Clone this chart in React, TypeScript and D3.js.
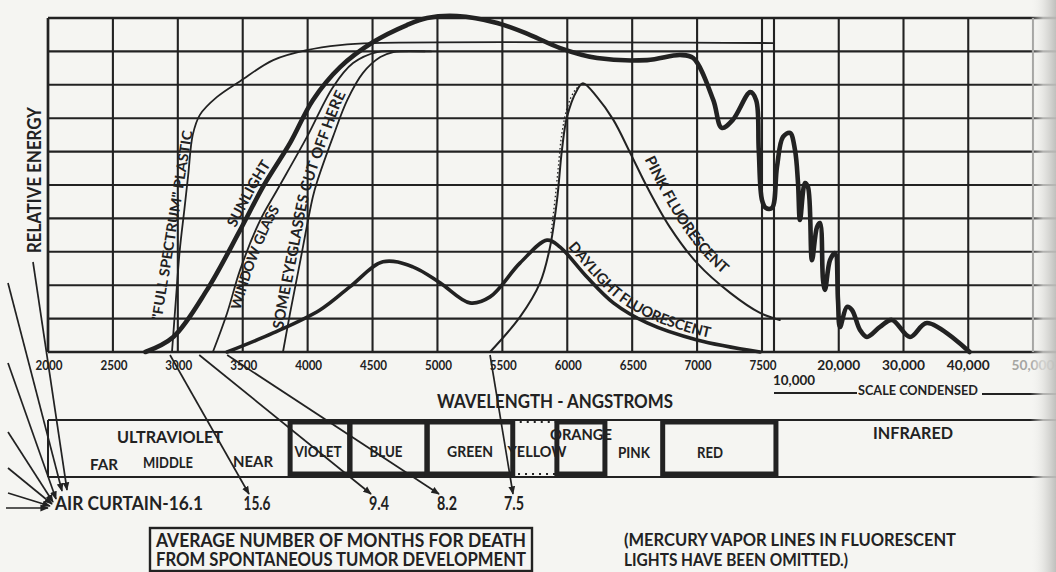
import React from "react";
import * as d3 from "d3";

const W = 1056;
const H = 572;
const INK = "#222222";
const PAPER = "#f5f5f2";
const FONT = "Lato, 'Open Sans', sans-serif";

// ---------- axis ticks ----------
const mainTicks = [2000, 2500, 3000, 3500, 4000, 4500, 5000, 5500, 6000, 6500, 7000, 7500];
const mainTickLabels = ["2000", "2500", "3000", "3500", "4000", "4500", "5000", "5500", "6000", "6500", "7000", "7500"];
const condensedTicks = [20000, 30000, 40000, 50000];
const condensedTickLabels = ["20,000", "30,000", "40,000", "50,000"];
const condensedStart = 10000;
const condensedStartLabel = "10,000";
const energyTicks = [0, 1, 2, 3, 4, 5, 6, 7, 8, 9, 10];

// ---------- series: [wavelength (Å), relative energy] ----------
const sunlight: [number, number][] = [
  [2750, 0], [2965, 0.45], [3225, 1.86], [3480, 3.65], [3655, 4.94], [3865, 6.26], [4040, 7.54],
  [4250, 8.53], [4505, 9.28], [4765, 9.79], [4920, 10.0], [5150, 10.06], [5460, 9.85], [5715, 9.49],
  [5945, 9.1], [6230, 8.8], [6615, 8.74], [6870, 8.89], [6970, 8.8], [7125, 7.54], [7190, 6.71],
  [7275, 6.95], [7410, 7.78], [7455, 7.54], [7475, 6.05], [7500, 4.55], [8330, 4.31], [9580, 4.31],
  [10460, 5.54], [11390, 6.44], [12470, 6.56], [13240, 6.05], [13710, 5.06], [14015, 3.95],
  [14790, 5.06], [15250, 4.94], [15870, 2.75], [16640, 3.74], [17100, 3.86], [17570, 2.16],
  [17875, 1.86], [18650, 2.75], [19420, 2.96], [19880, 1.56], [20190, 0.75], [21270, 1.35],
  [22040, 1.26], [23280, 0.66], [24360, 0.45], [26370, 0.75], [28220, 0.96], [31000, 0.45],
  [33620, 0.87], [40200, 0],
];
const fullSpectrumPlastic: [number, number][] = [
  [2955, 0], [2985, 1.56], [3015, 3.05], [3050, 4.25], [3080, 5.3], [3115, 6.5], [3170, 7.1],
  [3300, 7.63], [3480, 8.11], [3735, 8.74], [3995, 9.04], [4250, 9.19], [4505, 9.25], [9800, 9.25],
];
const windowGlass: [number, number][] = [
  [3270, 0], [3380, 1.17], [3480, 2.46], [3635, 3.95], [3765, 4.85], [3995, 6.44], [4195, 7.93],
  [4350, 8.65], [4535, 8.98], [4710, 9.0], [4950, 9.0],
];
const eyeglasses: [number, number][] = [
  [3810, 0], [3865, 1.17], [3940, 2.66], [4040, 4.64], [4070, 5.06], [4195, 6.44], [4305, 7.54],
  [4425, 8.35], [4560, 8.83], [4660, 8.98], [4900, 9.0],
];
const daylightFluorescent: [number, number][] = [
  [3380, 0], [3735, 0.57], [4095, 1.26], [4325, 1.95], [4580, 2.7], [4810, 2.55], [5020, 2.07],
  [5250, 1.47], [5405, 1.65], [5635, 2.66], [5845, 3.35], [5945, 3.14], [6150, 2.25], [6355, 1.47],
  [6615, 0.87], [7000, 0.36], [7485, 0],
];
const pinkFluorescent: [number, number][] = [
  [5405, 0], [5636, 1.05], [5790, 2.07], [5867, 3.14], [5921, 4.55], [5959, 6.05], [5998, 7.04],
  [6075, 7.84], [6121, 8.05], [6230, 7.63], [6355, 6.95], [6485, 5.96], [6615, 4.94], [6790, 3.74],
  [7000, 2.66], [7255, 1.77], [7485, 1.17], [10900, 0.96],
];
const pinkDotted: [number, number][] = [
  [5875, 3.56], [5905, 4.55], [5929, 5.45], [5959, 6.56], [6006, 7.4], [6060, 7.84], [6110, 8.02],
];

// ---------- spectrum band regions (Å) ----------
const bandNames = ["VIOLET", "BLUE", "GREEN", "YELLOW", "ORANGE", "PINK", "RED"];
const bandFrom = [3865, 4325, 4920, 5580, 5920, 6290, 6735];
const bandTo = [4325, 4920, 5580, 5920, 6290, 6735, 10300];
const bandBoxed = ["solid", "solid", "solid", "dotted", "solid", "none", "solid"];

// ---------- tumor months annotations ----------
const tumorLabels = ["15.6", "9.4", "8.2", "7.5"];
const tumorFromWl = [2940, 3165, 3380, 5405];

export default function App() {
  const x = d3.scaleLinear().domain([2000, 7500, 10000, 50000]).range([48, 762, 774, 1033]);
  const y = d3.scaleLinear().domain([0, 10]).range([352, 18]);
  const line = d3
    .line<[number, number]>()
    .x((d) => x(d[0]))
    .y((d) => y(d[1]))
    .curve(d3.curveCatmullRom.alpha(0.5));

  const x0 = x(2000);
  const yBase = y(0);
  const yTop = y(10);

  const series = [
    { id: "plastic", data: fullSpectrumPlastic, w: 1.8 },
    { id: "window", data: windowGlass, w: 1.8 },
    { id: "eye", data: eyeglasses, w: 1.8 },
    { id: "pink", data: pinkFluorescent, w: 2.0 },
    { id: "daylight", data: daylightFluorescent, w: 3.6 },
    { id: "sun", data: sunlight, w: 4.6 },
  ];

  const sub = (d: [number, number][], lo: number, hi: number) => d.filter((p) => p[0] >= lo && p[0] <= hi);

  const labelPaths = [
    { id: "lp-sun", d: line(sub(sunlight, 3400, 4600)), text: "SUNLIGHT", dy: -5, off: 0, size: 14.5 },
    { id: "lp-win", d: line(sub(windowGlass, 3370, 4600)), text: "WINDOW GLASS", dy: 12, off: 6, size: 14 },
    { id: "lp-eye", d: line(sub(eyeglasses, 3800, 4700)), text: "SOME EYEGLASSES CUT OFF HERE", dy: -4, off: 22, size: 15 },
    { id: "lp-pink", d: line(sub(pinkFluorescent, 6480, 7600)), text: "PINK FLUORESCENT", dy: -10, off: 12, size: 15 },
    { id: "lp-day", d: line(sub(daylightFluorescent, 5840, 7600)), text: "DAYLIGHT  FLUORESCENT", dy: -5, off: 20, size: 14.5 },
  ];

  const bandTop = 420;
  const bandBot = 477;

  const txt = (
    s: string,
    cx: number,
    by: number,
    size: number,
    len?: number,
    anchor: "middle" | "start" = "middle",
    extra: any = {}
  ) => (
    <text
      key={s + cx + by}
      x={cx}
      y={by}
      fontSize={size}
      textAnchor={anchor}
      textLength={len}
      lengthAdjust={len ? "spacingAndGlyphs" : undefined}
      fill={INK}
      fontWeight={700}
      {...extra}
    >
      {s}
    </text>
  );

  const fanSources = [
    [8, 283, 62, 491], [33, 262, 67, 490], [8, 363, 56, 499], [8, 432, 53, 502],
    [8, 468, 52, 504], [8, 493, 50, 506], [6, 508, 48, 508],
  ];

  const tumorLabelX = [257, 379, 447, 514];

  return (
    <svg
      width={W}
      height={H}
      viewBox={`0 0 ${W} ${H}`}
      style={{ position: "absolute", left: 0, top: 0, display: "block", background: PAPER }}
      fontFamily={FONT}
    >
      <defs>
        <marker id="arr" viewBox="0 0 10 10" refX="9" refY="5" markerWidth="5" markerHeight="5" orient="auto">
          <path d="M0,1 L10,5 L0,9 z" fill={INK} />
        </marker>
        <linearGradient id="edge" x1="0" x2="1" y1="0" y2="0">
          <stop offset="0" stopColor={PAPER} stopOpacity={0} />
          <stop offset="0.5" stopColor="#e2e2df" stopOpacity={0.75} />
          <stop offset="1" stopColor="#bdbdba" stopOpacity={0.95} />
        </linearGradient>
        {labelPaths.map((lp) => (
          <path key={lp.id} id={lp.id} d={lp.d || ""} fill="none" />
        ))}
      </defs>
      <rect x={0} y={0} width={W} height={H} fill={PAPER} />

      {/* horizontal grid */}
      {energyTicks.map((e) => (
        <line key={"h" + e} x1={x0} x2={W} y1={y(e)} y2={y(e)} stroke={INK} strokeWidth={e === 10 || e === 0 ? 2.5 : 2.1} />
      ))}
      {/* vertical grid */}
      {[...mainTicks, condensedStart, ...condensedTicks].map((t) => (
        <line
          key={"v" + t}
          x1={x(t)}
          x2={x(t)}
          y1={yTop}
          y2={yBase}
          stroke={t === 50000 ? "#9a9a98" : INK}
          strokeWidth={t === 2000 ? 2.7 : 2.1}
        />
      ))}

      {/* curves */}
      {series.map((s) => (
        <path key={s.id} d={line(s.data) || ""} fill="none" stroke={INK} strokeWidth={s.w} strokeLinejoin="round" strokeLinecap="round" />
      ))}
      <path d={line(pinkDotted) || ""} fill="none" stroke={INK} strokeWidth={1.3} strokeDasharray="1.5 2.5" />

      {/* curve labels */}
      {labelPaths.map((lp) => (
        <text key={"t" + lp.id} fontSize={lp.size} fontWeight={700} fill={INK} dy={lp.dy}>
          <textPath href={"#" + lp.id} startOffset={lp.off}>
            {lp.text}
          </textPath>
        </text>
      ))}
      <text
        transform="translate(177,226) rotate(-80.7)"
        fontSize={14}
        fontWeight={700}
        fill={INK}
        textAnchor="middle"
        textLength={192}
        lengthAdjust="spacingAndGlyphs"
      >
        {'"FULL SPECTRUM" PLASTIC'}
      </text>

      {/* y label */}
      <text transform="translate(41,180) rotate(-90)" fontSize={18} fontWeight={700} fill={INK} textAnchor="middle" textLength={146} lengthAdjust="spacingAndGlyphs">
        RELATIVE ENERGY
      </text>

      {/* x tick labels */}
      {mainTicks.map((t, i) => txt(mainTickLabels[i], x(t) + 1, 370, 14, 27))}
      {condensedTicks.map((t, i) =>
        txt(condensedTickLabels[i], x(t), 370, 14, 43, "middle", t === 50000 ? { fill: "#a5a5a2" } : {})
      )}
      {txt(condensedStartLabel, x(condensedStart) + 20, 385, 14, 42)}
      <line x1={x(condensedStart)} x2={857} y1={393} y2={393} stroke={INK} strokeWidth={1.8} />
      {txt("SCALE CONDENSED", 918, 395, 12.5, 120)}
      <line x1={982} x2={W} y1={394} y2={394} stroke={INK} strokeWidth={1.8} />
      {txt("WAVELENGTH - ANGSTROMS", 555, 408, 18.5, 236)}

      {/* spectrum band */}
      <line x1={x0} x2={W} y1={bandTop} y2={bandTop} stroke={INK} strokeWidth={2} />
      <line x1={x0} x2={W} y1={bandBot} y2={bandBot} stroke={INK} strokeWidth={2} />
      <line x1={x0} x2={x0} y1={bandTop} y2={bandBot} stroke={INK} strokeWidth={2} />
      {bandNames.map((n, i) =>
        bandBoxed[i] === "none" ? null : (
          <rect
            key={"b" + n}
            x={x(bandFrom[i])}
            y={bandTop + 2}
            width={x(bandTo[i]) - x(bandFrom[i])}
            height={bandBot - bandTop - 5}
            fill="none"
            stroke={INK}
            strokeWidth={bandBoxed[i] === "dotted" ? 2.2 : 5}
            strokeDasharray={bandBoxed[i] === "dotted" ? "2 5" : undefined}
          />
        )
      )}
      {txt("ULTRAVIOLET", 170, 443, 17.5, 106)}
      {txt("FAR", 104, 470, 15, 28)}
      {txt("MIDDLE", 168, 468, 15, 50)}
      {txt("NEAR", 253, 467, 15, 40)}
      {txt("VIOLET", 318, 457, 16, 47)}
      {txt("BLUE", 386, 457, 16, 33)}
      {txt("GREEN", 470, 457, 16, 46)}
      {txt("YELLOW", 537, 457, 16, 59)}
      {txt("ORANGE", 581, 440, 16, 62)}
      {txt("PINK", 634, 458, 16, 32)}
      {txt("RED", 710, 458, 16, 26)}
      {txt("INFRARED", 913, 439, 17.5, 80)}

      {/* tumor arrows */}
      {tumorLabels.map((l, i) => (
        <g key={"tm" + l}>
          <line
            x1={x(tumorFromWl[i])}
            y1={yBase + 3}
            x2={tumorLabelX[i] - (i === 3 ? 1 : 8)}
            y2={494}
            stroke={INK}
            strokeWidth={1.7}
            markerEnd="url(#arr)"
          />
          {txt(l, tumorLabelX[i], 510, 18, l.length === 4 ? 27 : 20)}
        </g>
      ))}
      {fanSources.map((f, i) => (
        <line key={"fan" + i} x1={f[0]} y1={f[1]} x2={f[2]} y2={f[3]} stroke={INK} strokeWidth={1.7} markerEnd="url(#arr)" />
      ))}
      {txt("AIR CURTAIN-16.1", 55, 510, 18, 148, "start")}

      {/* boxed caption */}
      <rect x={150} y={528} width={382} height={43} fill="none" stroke={INK} strokeWidth={2.4} />
      {txt("AVERAGE NUMBER OF MONTHS FOR DEATH", 341, 547, 18, 370)}
      {txt("FROM SPONTANEOUS TUMOR DEVELOPMENT", 341, 566, 18, 370)}

      {/* note */}
      {txt("(MERCURY VAPOR LINES IN FLUORESCENT", 624, 546, 16.5, 332, "start")}
      {txt("LIGHTS HAVE BEEN OMITTED.)", 624, 566, 16.5, 224, "start")}

      {/* page edge shading */}
      <rect x={1030} y={0} width={26} height={H} fill="url(#edge)" />
    </svg>
  );
}
